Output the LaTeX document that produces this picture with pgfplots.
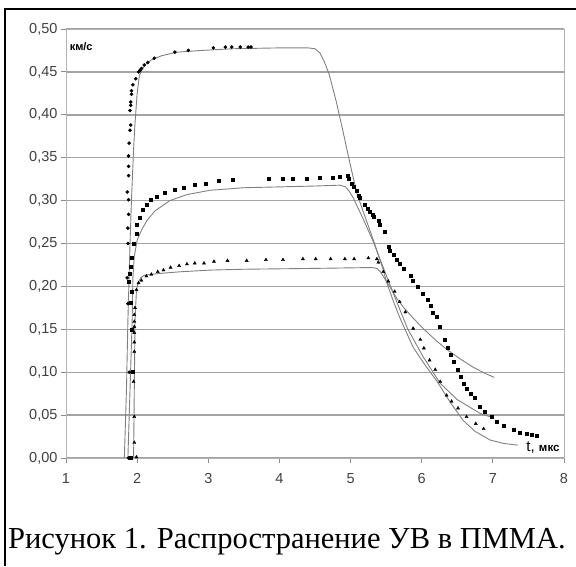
\documentclass[border=0pt]{standalone}
\usepackage{pgfplots}
\pgfplotsset{compat=1.18}
\usepackage{fontspec}
\setmainfont{Liberation Sans}
\newfontfamily\serif{Liberation Serif}
\begin{document}
\begin{tikzpicture}[x=1pt,y=1pt]
\path[use as bounding box] (0,0) rectangle (576,566);
\draw[black, line width=1.8pt] (5,0) -- (5,557) -- (576,557);
\begin{axis}[
  at={(66pt,108pt)}, anchor=south west, scale only axis,
  width=498pt, height=429pt,
  xmin=1, xmax=8, ymin=0, ymax=0.5,
  xtick={1,2,3,4,5,6,7,8},
  ytick={0,0.05,0.1,0.15,0.2,0.25,0.3,0.35,0.4,0.45,0.5},
  yticklabel style={/pgf/number format/.cd, fixed, fixed zerofill, precision=2, use comma},
  xticklabel style={yshift=-7pt},
  /pgf/number format/assume math mode=true,
  tick label style={font=\fontsize{14.5}{14.5}\selectfont, text=black!75},
  ymajorgrids, grid style={black!36, line width=1.4pt},
  axis line style={black!30, line width=1pt},
  tick style={black!45, line width=1pt},
  tick align=outside, major tick length=5pt,
  xtick pos=bottom, ytick pos=left,
  clip=false,
]
% upper dots
\addplot[only marks, mark=*, mark size=1.6pt, black] coordinates {
(1.88,0.0)(1.89,0.10)(1.87,0.18)(1.86,0.21)(1.87,0.25)(1.87,0.268)(1.88,0.284)(1.88,0.301)(1.86,0.310)(1.88,0.329)(1.88,0.340)(1.88,0.352)(1.886,0.367)(1.90,0.382)(1.91,0.388)(1.90,0.405)(1.91,0.411)(1.91,0.415)(1.92,0.424)(1.92,0.428)(1.94,0.435)(1.98,0.442)(2.02,0.450)(2.04,0.452)(2.06,0.454)(2.10,0.458)(2.15,0.461)(2.24,0.466)(2.53,0.473)(2.72,0.475)(3.07,0.478)(3.24,0.479)(3.33,0.479)(3.45,0.479)(3.56,0.479)(3.60,0.479)
};
% medium squares
\addplot[only marks, mark=square*, mark size=1.5pt, black] coordinates {
(1.91,0.0)(1.94,0.101)(1.92,0.15)(1.91,0.181)(1.92,0.194)(1.88,0.205)(1.90,0.215)(1.91,0.223)(1.92,0.234)(1.95,0.25)(1.99,0.262)(2.00,0.272)(2.04,0.280)(2.08,0.289)(2.13,0.295)(2.19,0.301)(2.28,0.305)(2.39,0.309)(2.53,0.313)(2.66,0.315)(2.81,0.318)(2.96,0.320)(3.15,0.323)(3.35,0.324)(3.85,0.325)(4.05,0.325)(4.19,0.325)(4.38,0.326)(4.57,0.327)(4.75,0.327)(4.85,0.328)(4.96,0.329)(4.98,0.326)(5.01,0.320)(5.04,0.316)(5.08,0.312)(5.11,0.306)(5.13,0.303)(5.20,0.295)(5.24,0.291)(5.27,0.287)(5.31,0.284)(5.33,0.281)(5.39,0.276)(5.41,0.272)(5.48,0.264)(5.53,0.246)(5.55,0.242)(5.61,0.237)(5.65,0.231)(5.69,0.227)(5.75,0.221)(5.84,0.213)(5.88,0.207)(5.95,0.200)(6.02,0.192)(6.08,0.184)(6.12,0.178)(6.16,0.169)(6.21,0.165)(6.25,0.153)(6.33,0.138)(6.37,0.129)(6.41,0.120)(6.45,0.112)(6.51,0.103)(6.55,0.095)(6.59,0.087)(6.63,0.081)(6.69,0.075)(6.75,0.070)(6.81,0.060)(6.89,0.054)(6.98,0.048)(7.05,0.042)(7.15,0.038)(7.29,0.033)(7.38,0.030)(7.47,0.028)(7.55,0.027)(7.62,0.026)
};
% lower triangles
\addplot[only marks, mark=triangle*, mark size=1.8pt, black] coordinates {
(1.99,0.001)(1.96,0.018)(1.96,0.048)(1.95,0.089)(1.96,0.124)(1.96,0.135)(1.96,0.146)(1.96,0.153)(1.96,0.159)(1.96,0.167)(1.97,0.175)(1.99,0.196)(2.02,0.204)(2.06,0.207)(2.13,0.212)(2.20,0.214)(2.29,0.217)(2.37,0.219)(2.47,0.222)(2.59,0.224)(2.70,0.226)(2.81,0.227)(2.94,0.227)(3.08,0.229)(3.27,0.230)(3.54,0.230)(3.81,0.231)(4.05,0.231)(4.33,0.232)(4.51,0.232)(4.72,0.232)(4.92,0.232)(5.05,0.232)(5.25,0.233)(5.37,0.232)(5.39,0.228)(5.46,0.217)(5.53,0.206)(5.62,0.194)(5.69,0.182)(5.77,0.170)(5.88,0.151)(5.98,0.138)(6.03,0.128)(6.11,0.114)(6.19,0.103)(6.26,0.089)(6.35,0.073)(6.42,0.066)(6.51,0.058)(6.63,0.048)(6.76,0.040)(6.87,0.034)
};
% upper line
\addplot[black!50, line width=0.9pt] coordinates {
(1.82,0.0)(1.85,0.08)(1.87,0.16)(1.90,0.25)(1.92,0.30)(1.95,0.36)(1.97,0.39)(2.0,0.425)(2.03,0.445)(2.07,0.453)(2.12,0.459)(2.2,0.464)(2.35,0.469)(2.56,0.473)(2.9,0.475)(3.35,0.477)(4.0,0.478)(4.4,0.478)(4.5,0.477)(4.57,0.472)(4.63,0.462)(4.7,0.447)(4.8,0.415)(4.89,0.382)(4.99,0.344)(5.09,0.308)(5.17,0.289)(5.32,0.254)(5.46,0.219)(5.51,0.204)(5.6,0.183)(5.7,0.162)(5.88,0.129)(6.05,0.108)(6.21,0.090)(6.4,0.065)(6.58,0.044)(6.75,0.031)(6.96,0.021)(7.15,0.017)(7.35,0.015)
};
% medium line
\addplot[black!50, line width=0.9pt] coordinates {
(1.87,0.0)(1.90,0.08)(1.93,0.16)(1.94,0.21)(1.96,0.235)(2.0,0.254)(2.07,0.267)(2.14,0.277)(2.25,0.288)(2.46,0.300)(2.7,0.307)(3.02,0.312)(3.5,0.315)(4.0,0.316)(4.5,0.317)(4.85,0.318)(4.93,0.316)(4.98,0.311)(5.04,0.303)(5.1,0.292)(5.17,0.280)(5.32,0.252)(5.46,0.222)(5.60,0.192)(5.8,0.151)(6.02,0.118)(6.26,0.087)(6.50,0.068)(6.82,0.052)(7.00,0.047)
};
% lower line
\addplot[black!50, line width=0.9pt] coordinates {
(1.95,0.0)(1.96,0.08)(1.97,0.16)(1.99,0.195)(2.01,0.204)(2.05,0.210)(2.1,0.213)(2.3,0.215)(2.6,0.217)(3.02,0.219)(3.5,0.220)(4.5,0.221)(5.3,0.222)(5.37,0.221)(5.42,0.217)(5.48,0.209)(5.55,0.200)(5.65,0.186)(5.74,0.176)(5.88,0.163)(6.02,0.151)(6.2,0.137)(6.36,0.126)(6.55,0.115)(6.72,0.106)(6.88,0.099)(7.02,0.094)
};
\node[anchor=west, inner sep=0pt, font=\bfseries\fontsize{11}{11}\selectfont] at (axis cs:1.05,0.479) {км/с};
\node[anchor=base west, inner sep=0pt, font=\fontsize{15}{15}\selectfont] at (axis cs:7.47,0.008) {t, \textbf{\fontsize{11.5}{11.5}\selectfont мкс}};
\end{axis}
\node[anchor=base west, inner sep=0pt, font=\serif\fontsize{30.5}{30.5}\selectfont] at (8,18) {Рисунок 1. Распространение УВ в ПММА.};
\end{tikzpicture}
\end{document}
